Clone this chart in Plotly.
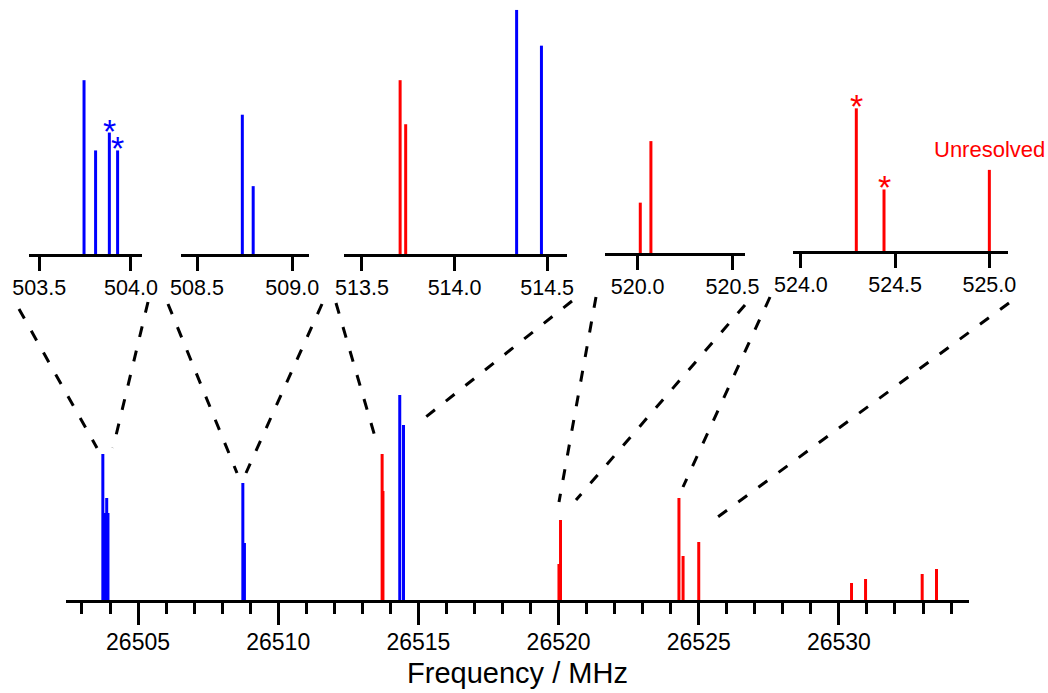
import plotly.graph_objects as go

W, H = 1048, 693

# Line positions (MHz) and intensities (arb. units) for the two species
blue_freq = [26503.744, 26503.807, 26503.882, 26503.927,
             26508.738, 26508.795,
             26514.335, 26514.469]
blue_int = [146, 87, 102, 87,
            117, 57,
            205, 175]

red_freq = [26513.706, 26513.736,
            26520.014, 26520.070,
            26524.294, 26524.441, 26525.000,
            26530.45, 26530.95, 26532.97, 26533.48]
red_int = [146, 109,
           36, 80,
           102, 44, 58,
           17, 21, 26, 31]

# Zoomed windows (MHz offset from 26000) and their tick values
inset_ranges = [(503.444, 504.06), (508.416, 509.088), (513.403, 514.607),
                (519.828, 520.566), (523.958, 525.099)]
inset_ticks = [[503.5, 504.0], [508.5, 509.0], [513.5, 514.0, 514.5],
               [520.0, 520.5], [524.0, 524.5, 525.0]]
OFFSET = 26000

main_ticks = [26505, 26510, 26515, 26520, 26525, 26530]

# Marked transitions (offset frequency, colour, panel number 1-5)
starred = [(503.882, "#0000FF", 1), (503.927, "#0000FF", 1),
           (524.294, "#FF0000", 5), (524.441, "#FF0000", 5)]

BLUE = "#0000FF"
RED = "#FF0000"
FONT = "Arial, Liberation Sans, sans-serif"


def px_x(p):
    return p / W


def px_y(p):
    return 1 - p / H


def sticks(freqs, ints, shift=0.0):
    xs, ys = [], []
    for f, v in zip(freqs, ints):
        xs += [f - shift, f - shift, None]
        ys += [0, v, None]
    return xs, ys


fig = go.Figure()

# ---- main spectrum ----
for freqs, ints, col in [(blue_freq, blue_int, BLUE), (red_freq, red_int, RED)]:
    xs, ys = sticks(freqs, ints)
    fig.add_trace(go.Scatter(x=xs, y=ys, mode="lines",
                             line=dict(color=col, width=3),
                             xaxis="x", yaxis="y", hoverinfo="skip"))

layout = dict(
    width=W, height=H,
    margin=dict(l=0, r=0, t=0, b=0, autoexpand=False),
    paper_bgcolor="white", plot_bgcolor="white",
    showlegend=False,
    font=dict(family=FONT, color="black"),
    xaxis=dict(domain=[px_x(66), px_x(969)], range=[26502.43, 26534.64],
               showgrid=False, zeroline=False,
               showline=True, linecolor="black", linewidth=3,
               ticks="outside", ticklen=22, tickwidth=3, tickcolor="black",
               tickvals=main_ticks, tickformat="d", ticklabelstandoff=-3,
               tickfont=dict(size=23, family=FONT),
               minor=dict(dtick=1, tick0=26500, ticks="outside", ticklen=11,
                          tickwidth=3, tickcolor="black", showgrid=False),
               title=dict(text="Frequency / MHz",
                          font=dict(size=29, family=FONT), standoff=10),
               automargin=False, anchor="y"),
    yaxis=dict(domain=[px_y(600), px_y(300)], range=[0, 300],
               visible=False, anchor="x"),
)

# ---- zoomed panels ----
inset_px = [(29, 142, 254), (181, 309, 254), (344, 567, 254),
            (605, 745, 253), (793, 1008, 251)]
inset_scale = [0.84, 0.84, 0.84, 0.715, 0.715]
INSET_TOP = 5

for i, ((xa, xb, base), scale, rng, tv) in enumerate(
        zip(inset_px, inset_scale, inset_ranges, inset_ticks)):
    k = i + 2
    xname, yname = f"x{k}", f"y{k}"
    lo, hi = rng
    for freqs, ints, col in [(blue_freq, blue_int, BLUE), (red_freq, red_int, RED)]:
        sel = [(f, v) for f, v in zip(freqs, ints) if lo < f - OFFSET < hi]
        if not sel:
            continue
        xs, ys = sticks([s[0] for s in sel], [s[1] for s in sel], OFFSET)
        fig.add_trace(go.Scatter(x=xs, y=ys, mode="lines",
                                 line=dict(color=col, width=3),
                                 xaxis=xname, yaxis=yname, hoverinfo="skip"))
    layout[f"xaxis{k}"] = dict(
        domain=[px_x(xa), px_x(xb)], range=[lo, hi],
        showgrid=False, zeroline=False,
        showline=True, linecolor="black", linewidth=3,
        ticks="outside", ticklen=14, tickwidth=3, tickcolor="black",
        tickvals=tv, tickformat=".1f", ticklabelstandoff=-2,
        tickfont=dict(size=21.5, family=FONT),
        automargin=False, anchor=yname)
    layout[f"yaxis{k}"] = dict(
        domain=[px_y(base), px_y(INSET_TOP)],
        range=[0, (base - INSET_TOP) * scale],
        visible=False, anchor=xname)

fig.update_layout(**layout)

# ---- asterisks over marked transitions ----
all_freq = blue_freq + red_freq
all_int = blue_int + red_int
for f_off, col, panel in starred:
    j = min(range(len(all_freq)), key=lambda n: abs(all_freq[n] - OFFSET - f_off))
    k = panel + 1
    fig.add_annotation(x=f_off, y=all_int[j], xref=f"x{k}", yref=f"y{k}",
                       text="*", showarrow=False, yanchor="bottom",
                       yshift=-19, font=dict(size=34, color=col, family=FONT))

# label for the unresolved line at 525.0
j = min(range(len(red_freq)), key=lambda n: abs(red_freq[n] - OFFSET - 525.0))
fig.add_annotation(x=525.0, y=red_int[j], xref="x6", yref="y6",
                   text="Unresolved", showarrow=False, yanchor="bottom",
                   yshift=6, font=dict(size=22, color=RED, family=FONT))

# ---- dashed connectors between panels and spectrum ----
connectors = [((19, 309), (97, 448)), ((148, 302), (113, 448)),
              ((168, 304), (237, 473)), ((322, 304), (246, 473)),
              ((336, 303), (378, 447)), ((572, 301), (417, 424)),
              ((596, 297), (559, 502)), ((745, 305), (576, 500)),
              ((770, 297), (683, 487)), ((1009, 303), (707, 525))]
for (x0, y0), (x1, y1) in connectors:
    fig.add_shape(type="line", xref="paper", yref="paper",
                  x0=px_x(x0), y0=px_y(y0), x1=px_x(x1), y1=px_y(y1),
                  line=dict(color="black", width=3, dash="11px,14px"))

fig.write_html("out.html")
